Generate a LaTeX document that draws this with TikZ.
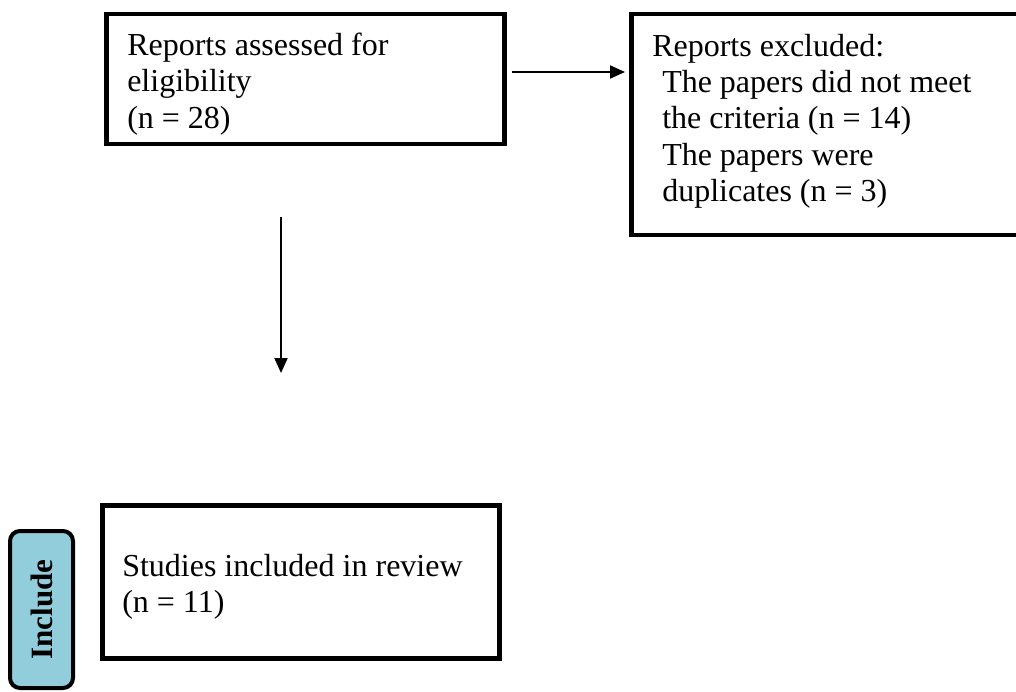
\documentclass[tikz,border=0pt]{standalone}
\usepackage{fontspec}
\setmainfont{Liberation Serif}
\usetikzlibrary{arrows.meta,calc}
\definecolor{inclblue}{HTML}{92CDDC}
\tikzset{
  flowbox/.style={draw=black, line width=4.5pt, rectangle, inner sep=0pt, anchor=north west, fill=white},
  arr/.style={line width=2pt, -{Triangle[length=15pt,width=13pt]}},
  sidebar/.style={draw=black, line width=4pt, rounded corners=10pt, fill=inclblue, inner sep=0pt, rotate=90, font=\bfseries\fontsize{31}{36}\selectfont}
}
\newcommand{\boxtext}[4]{\parbox[c][#1][t]{#2}{\fontsize{32}{36.3}\selectfont\raggedright\vspace*{#3}#4}}
\begin{document}
\begin{tikzpicture}[x=1pt,y=1pt]
\useasboundingbox (0,0) rectangle (1016,-692);
\clip (0,0) rectangle (1016,-692);
% box 1
\node[flowbox, minimum width=398pt, minimum height=130pt, inner xsep=21pt] (box1) at (104,-12)
  {\boxtext{130pt}{356pt}{16pt}{\strut Reports assessed for\\eligibility\\(n = 28)}};
% box 2
\node[flowbox, minimum width=420pt, minimum height=221pt, inner xsep=21pt] (box2) at (629,-12)
  {\boxtext{221pt}{378pt}{16.5pt}{\strut Reports excluded:\\\hspace*{10pt}The papers did not meet\\\hspace*{10pt}the criteria (n = 14)\\\hspace*{10pt}The papers were\\\hspace*{10pt}duplicates (n = 3)}};
% box 3
\node[flowbox, minimum width=397pt, minimum height=153pt, inner xsep=20pt] (box3) at (100,-503)
  {\boxtext{153pt}{357pt}{45.6pt}{\strut Studies included in review\\(n = 11)}};
% side bar
\node[sidebar, minimum width=157pt, minimum height=63pt] (incl) at (41.5,-609.5) {Include};
% connectors
\draw[arr, shorten <=5pt, shorten >=4pt] ($(box1.north east)+(0,-60)$) coordinate (h1) -- (box2.west |- h1);
\coordinate (vs) at (281,-217);
\coordinate (ve) at (281,-373);
\draw[arr] (vs) -- (ve);
\end{tikzpicture}
\end{document}
